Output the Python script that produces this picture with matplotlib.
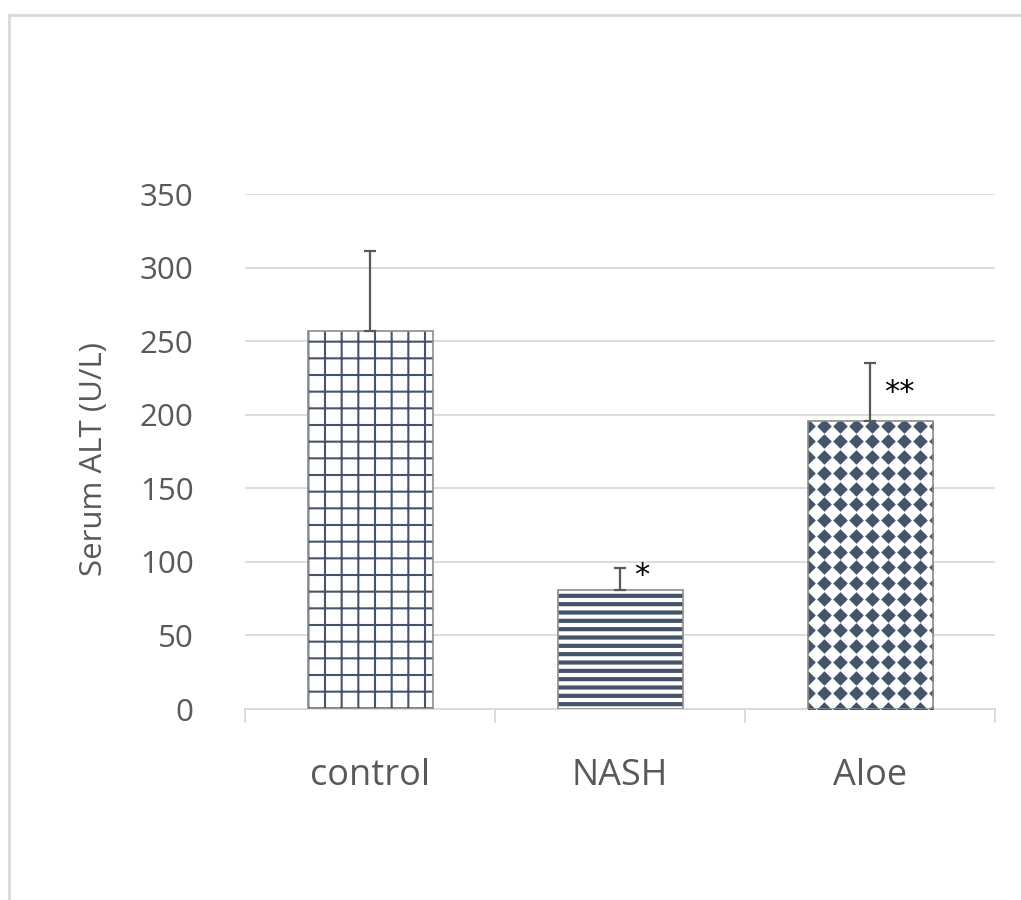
import numpy as np
import matplotlib.pyplot as plt
from matplotlib.patches import Rectangle

# Serum ALT per group, mean and upper SD
groups = ["control", "NASH", "Aloe"]
alt_mean = [257, 81, 196]
alt_sd = [54, 15, 39]
stars = ["", "*", "**"]
star_y = [0, 91, 215]
yticks = [0, 50, 100, 150, 200, 250, 300, 350]

plt.rcParams['font.family'] = ['Open Sans', 'DejaVu Sans']

ink = '#44546A'
txt = '#595959'
light = '#d9d9d9'

fig = plt.figure(figsize=(10.21, 9), dpi=100)
ax = fig.add_axes([0.2400, 0.2122, 0.7346, 0.5722])

x = np.arange(len(groups))
w = 0.5

def hatched_bar(i, hatch, hlw):
    plt.rcParams['hatch.linewidth'] = hlw
    b = ax.bar(x[i], alt_mean[i], w, color='white', edgecolor=ink,
               hatch=hatch, linewidth=0, zorder=2)[0]
    try:
        b.set_hatch_linewidth(hlw)
    except AttributeError:
        pass
    return b

# control: square grid, NASH: horizontal stripes
hatched_bar(0, '+', 1.5)
hatched_bar(1, '--', 3.0)

# Aloe: white bar filled with a lattice of diamonds
aloe = ax.bar(x[2], alt_mean[2], w, color='white', linewidth=0, zorder=2)[0]
dx, dy = 0.064, 10.7
gx = np.arange(x[2] - w / 2, x[2] + w / 2 + dx, dx)
gy = np.arange(0, alt_mean[2] + dy, dy)
GX, GY = np.meshgrid(gx, gy)
dots, = ax.plot(GX.ravel(), GY.ravel(), linestyle='none', marker=(4, 0, 0),
                markersize=10.5, markeredgewidth=0, color=ink, zorder=3)
dots.set_clip_path(aloe)

# bar outlines
ax.bar(x, alt_mean, w, fill=False, edgecolor='#8c8c8c', linewidth=1.2, zorder=4)

ax.errorbar(x, alt_mean, yerr=[np.zeros(len(x)), alt_sd], fmt='none',
            ecolor=txt, elinewidth=1.6, capsize=4.5, capthick=1.6, zorder=5)

for i, s in enumerate(stars):
    if s:
        ax.text(x[i] + 0.055, star_y[i], s, ha='left', va='center',
                fontsize=22, color='black', family='DejaVu Sans')

ax.set_xlim(-0.5, 2.5)
ax.set_ylim(0, 350)
ax.set_yticks(yticks)
ax.set_xticks(x)
ax.set_xticklabels(groups)
ax.set_xticks([-0.5, 0.5, 1.5, 2.5], minor=True)
ax.tick_params(axis='y', length=0, pad=37, labelsize=22.5, labelcolor=txt)
ax.tick_params(axis='x', which='major', length=0, pad=35, labelsize=26, labelcolor=txt)
ax.tick_params(axis='x', which='minor', length=10, width=1.3, color=light)

ax.grid(axis='y', color=light, linewidth=1.3, zorder=0)
ax.set_axisbelow(True)
for side in ['top', 'right', 'left']:
    ax.spines[side].set_visible(False)
ax.spines['bottom'].set_color(light)
ax.spines['bottom'].set_linewidth(1.3)

ax.set_ylabel('Serum ALT (U/L)', fontsize=22.5, color=txt)
ax.yaxis.set_label_coords(-0.181, 0.485)

# chart frame
fig.patches.append(Rectangle((9 / 1021, -0.1), 1.2, 1.0833, transform=fig.transFigure,
                             fill=False, edgecolor=light, linewidth=2))

fig.savefig('out.png', dpi=100)
